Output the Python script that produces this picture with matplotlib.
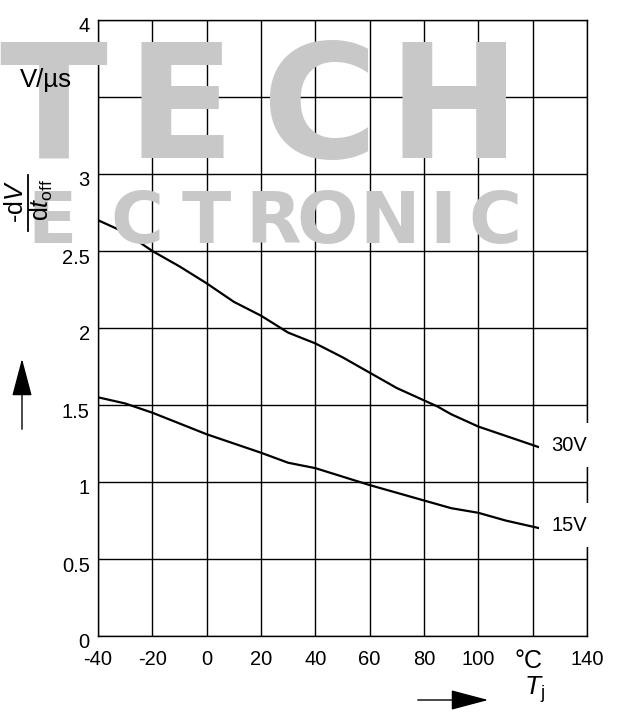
import matplotlib
matplotlib.use("Agg")
import matplotlib.pyplot as plt
from matplotlib import transforms, patches, lines

plt.rcParams['font.family'] = ['Liberation Sans', 'DejaVu Sans']
plt.rcParams['mathtext.fontset'] = 'custom'
plt.rcParams['mathtext.rm'] = 'Liberation Sans'
plt.rcParams['mathtext.it'] = 'Liberation Sans:italic'

# Data
temp_30v = [-40, -30, -20, -10, 0, 10, 20, 30, 40, 50, 60, 70, 80, 85, 90, 100, 110, 125]
dvdt_30v = [2.70, 2.62, 2.50, 2.40, 2.29, 2.17, 2.08, 1.97, 1.90, 1.81, 1.71, 1.61, 1.53, 1.49, 1.44, 1.36, 1.30, 1.21]
temp_15v = [-40, -30, -20, -10, 0, 10, 20, 30, 40, 50, 60, 70, 80, 90, 100, 110, 125]
dvdt_15v = [1.55, 1.51, 1.45, 1.38, 1.31, 1.25, 1.19, 1.125, 1.09, 1.035, 0.98, 0.93, 0.88, 0.83, 0.80, 0.75, 0.69]
x_ticks = [-40, -20, 0, 20, 40, 60, 80, 100, 120, 140]
x_tick_labels = ['-40', '-20', '0', '20', '40', '60', '80', '100', '', '140']
y_ticks = [0, 0.5, 1, 1.5, 2, 2.5, 3, 3.5, 4]
y_tick_labels = ['0', '0.5', '1', '1.5', '2', '2.5', '3', '', '4']
series_labels = ['30V', '15V']

W, H = 617, 716
fig = plt.figure(figsize=(W / 100, H / 100), dpi=100)

def fx(px):
    return px / W

def fy(py):
    return 1 - py / H

FS = 14.5

# Watermark (behind the axes)
wm_color = '#c8c8c8'
for ch, cx in zip('TECH', [53, 181, 319, 454]):
    fig.text(fx(cx), fy(158), ch, color=wm_color, fontsize=114, fontweight='bold',
             family='DejaVu Sans', ha='center', va='baseline', zorder=0)
for ch, cx in zip('ECTRONIC', [52, 137, 206, 273, 327, 390, 443, 495]):
    fig.text(fx(cx), fy(243), ch, color=wm_color, fontsize=52, fontweight='bold',
             family='DejaVu Sans', ha='center', va='baseline', zorder=0)

ax = fig.add_axes([fx(98), fy(636), fx(587) - fx(98), fy(20) - fy(636)])
ax.patch.set_alpha(0)
ax.set_xlim(-40, 140)
ax.set_ylim(0, 4)
ax.set_xticks(x_ticks)
ax.set_xticklabels(x_tick_labels)
ax.set_yticks(y_ticks)
ax.set_yticklabels(y_tick_labels)
ax.tick_params(length=0, labelsize=FS, pad=6)
ax.tick_params(axis='x', pad=10)
shift = transforms.ScaledTranslation(0, -5 / 100, fig.dpi_scale_trans)
for lbl in ax.get_yticklabels():
    lbl.set_transform(lbl.get_transform() + shift)
ax.grid(True, color='black', linewidth=1.0)
for s in ax.spines.values():
    s.set_linewidth(1.0)

ax.plot(temp_30v, dvdt_30v, color='black', linewidth=1.6, zorder=3)
ax.plot(temp_15v, dvdt_15v, color='black', linewidth=1.6, zorder=3)

ax.text(127, dvdt_30v[-1] + 0.03, series_labels[0], fontsize=FS, ha='left', va='center',
        bbox=dict(facecolor='white', edgecolor='none', pad=9), zorder=4, clip_on=False)
ax.text(127, dvdt_15v[-1] + 0.03, series_labels[1], fontsize=FS, ha='left', va='center',
        bbox=dict(facecolor='white', edgecolor='none', pad=9), zorder=4, clip_on=False)

# Units and axis labels
fig.text(fx(46), fy(80), 'V/µs', fontsize=18.5, ha='center', va='center')
fig.text(fx(529), fy(661), '°C', fontsize=18, ha='center', va='center')
fig.text(fx(534), fy(690), r'$T_\mathrm{j}$', fontsize=19, ha='center', va='center')

# y-axis quantity as a rotated fraction
fig.text(fx(16), fy(202), r'-d$V$', fontsize=18, rotation=90, ha='center', va='center')
fig.text(fx(41), fy(200), r'd$t_\mathrm{off}$', fontsize=18, rotation=90, ha='center', va='center')
fig.add_artist(lines.Line2D([fx(27.5), fx(27.5)], [fy(231), fy(175)], transform=fig.transFigure,
                            color='black', linewidth=1.3))

# Arrows
fig.add_artist(patches.FancyArrowPatch((fx(22), fy(432)), (fx(22), fy(356)),
               transform=fig.transFigure, arrowstyle='-|>,head_length=1.7,head_width=0.45',
               color='black', linewidth=1.0, mutation_scale=14))
fig.add_artist(patches.FancyArrowPatch((fx(415), fy(700)), (fx(491), fy(700)),
               transform=fig.transFigure, arrowstyle='-|>,head_length=1.7,head_width=0.45',
               color='black', linewidth=1.0, mutation_scale=14))

fig.savefig('out.png', dpi=100, facecolor='white')
